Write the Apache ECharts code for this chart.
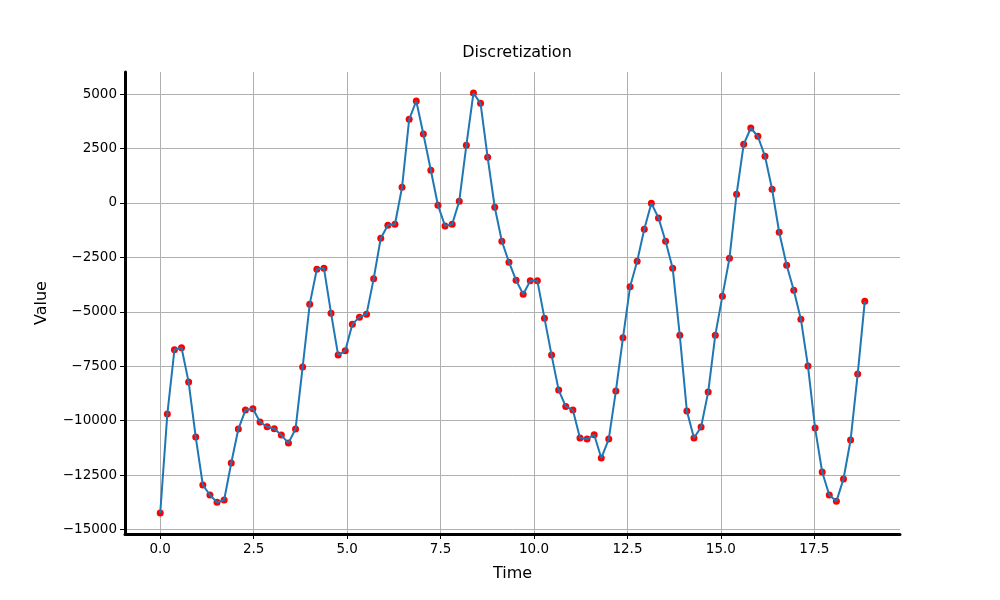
<!DOCTYPE html>
<html>
<head>
<meta charset="utf-8">
<script src="https://cdn.jsdelivr.net/npm/echarts@6/dist/echarts.min.js"></script>
<style>
html, body {margin: 0; padding: 0; background: #fff;}
#chart {width: 1000px; height: 600px;}
</style>
</head>
<body>
<div id="chart"></div>
<script>
// sample times (s)
var times = [
    0.00, 0.19, 0.38, 0.57, 0.76, 0.95, 1.14, 1.33, 1.52, 1.71,
    1.90, 2.09, 2.28, 2.48, 2.67, 2.86, 3.05, 3.24, 3.43, 3.62,
    3.81, 4.00, 4.19, 4.38, 4.57, 4.76, 4.95, 5.14, 5.33, 5.52,
    5.71, 5.90, 6.09, 6.28, 6.47, 6.66, 6.85, 7.04, 7.24, 7.43,
    7.62, 7.81, 8.00, 8.19, 8.38, 8.57, 8.76, 8.95, 9.14, 9.33,
    9.52, 9.71, 9.90, 10.09, 10.28, 10.47, 10.66, 10.85, 11.04, 11.23,
    11.42, 11.61, 11.80, 12.00, 12.19, 12.38, 12.57, 12.76, 12.95, 13.14,
    13.33, 13.52, 13.71, 13.90, 14.09, 14.28, 14.47, 14.66, 14.85, 15.04,
    15.23, 15.42, 15.61, 15.80, 15.99, 16.18, 16.37, 16.56, 16.76, 16.95,
    17.14, 17.33, 17.52, 17.71, 17.90, 18.09, 18.28, 18.47, 18.66, 18.85
];
// sampled values
var values = [
    -14235, -9694, -6743, -6651, -8226, -10749, -12950, -13409, -13746, -13639,
    -11941, -10382, -9510, -9449, -10061, -10275, -10366, -10657, -11024, -10382,
    -7538, -4648, -3042, -2997, -5061, -6987, -6789, -5565, -5244, -5107,
    -3486, -1621, -1024, -978, 719, 3838, 4679, 3165, 1499, -107,
    -1055, -978, 77, 2645, 5046, 4572, 2095, -199, -1758, -2721,
    -3547, -4189, -3578, -3578, -5290, -6987, -8593, -9342, -9510, -10795,
    -10840, -10642, -11712, -10840, -8639, -6192, -3853, -2675, -1208, -15,
    -688, -1758, -2997, -6070, -9556, -10795, -10290, -8685, -6070, -4281,
    -2538, 398, 2691, 3440, 3058, 2141, 627, -1345, -2859, -4006,
    -5336, -7492, -10336, -12354, -13409, -13700, -12675, -10886, -7859, -4510
];
var xTicks = [0, 2.5, 5, 7.5, 10, 12.5, 15, 17.5];
var yTicks = [-15000, -12500, -10000, -7500, -5000, -2500, 0, 2500, 5000];

var points = times.map(function (t, i) { return [t, values[i]]; });

function minus(s) { return String(s).replace('-', '\u2212'); }

var font = 'DejaVu Sans';
var gridLine = {show: true, lineStyle: {color: '#b0b0b0', width: 1}};

var chart = echarts.init(document.getElementById('chart'), null, {renderer: 'canvas'});
chart.setOption({
    animation: false,
    backgroundColor: '#fff',
    textStyle: {fontFamily: font},
    title: {
        text: 'Discretization',
        left: 512,
        top: 40,
        textAlign: 'center',
        textStyle: {fontFamily: font, fontSize: 16, fontWeight: 'normal', color: '#000'}
    },
    grid: {left: 125, right: 100, top: 72, bottom: 66, containLabel: false},
    xAxis: {
        type: 'value',
        min: -0.9425,
        max: 19.792,
        name: 'Time',
        nameLocation: 'middle',
        nameGap: 32,
        nameTextStyle: {fontFamily: font, fontSize: 16, color: '#000'},
        axisLine: {show: true, onZero: false, lineStyle: {color: '#000', width: 3}},
        axisTick: {show: true, length: 5, customValues: xTicks, lineStyle: {color: '#000', width: 1}},
        axisLabel: {
            customValues: xTicks, color: '#000', fontSize: 13.5, margin: 8,
            formatter: function (v) { return v.toFixed(1); }
        },
        splitLine: gridLine
    },
    yAxis: {
        type: 'value',
        min: -15199,
        max: 6010,
        name: 'Value',
        nameLocation: 'middle',
        nameGap: 75,
        nameRotate: 90,
        nameTextStyle: {fontFamily: font, fontSize: 16, color: '#000'},
        axisLine: {show: true, onZero: false, lineStyle: {color: '#000', width: 3}},
        axisTick: {show: true, length: 5, customValues: yTicks, lineStyle: {color: '#000', width: 1}},
        axisLabel: {
            customValues: yTicks, color: '#000', fontSize: 13.5, margin: 8,
            formatter: function (v) { return minus(v); }
        },
        splitLine: gridLine
    },
    series: [{
        type: 'scatter',
        data: points,
        symbol: 'circle',
        symbolSize: 7,
        itemStyle: {color: '#ff0000', opacity: 1},
        z: 2
    }, {
        type: 'line',
        data: points,
        showSymbol: false,
        lineStyle: {color: '#1f77b4', width: 2},
        z: 3
    }]
});
</script>
</body>
</html>
